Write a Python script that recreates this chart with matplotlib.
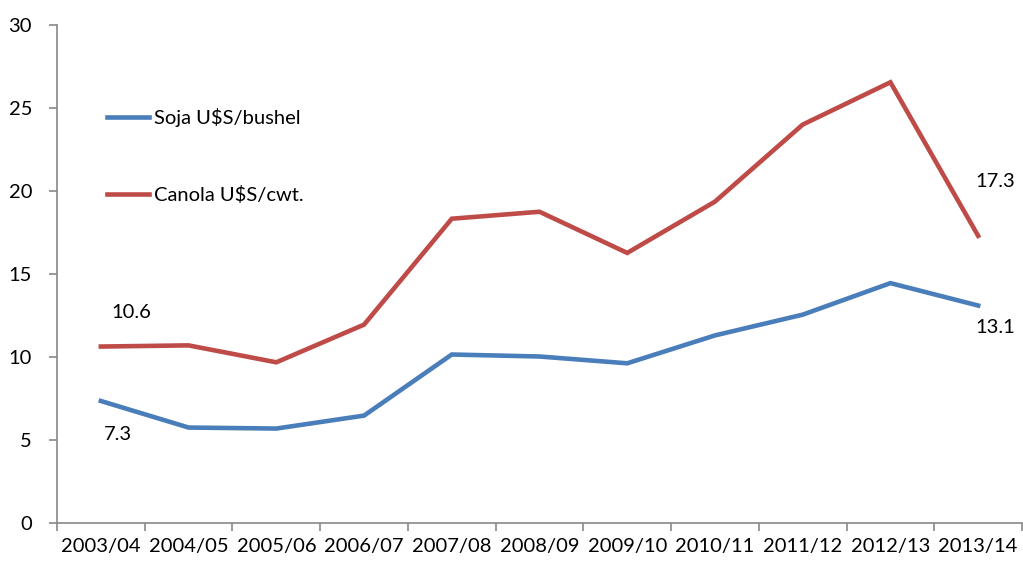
import matplotlib
matplotlib.use("Agg")
import matplotlib.pyplot as plt
import numpy as np

categories = ["2003/04", "2004/05", "2005/06", "2006/07", "2007/08", "2008/09",
              "2009/10", "2010/11", "2011/12", "2012/13", "2013/14"]
soja = [7.35, 5.75, 5.69, 6.47, 10.15, 10.03, 9.62, 11.3, 12.55, 14.45, 13.1]
canola = [10.63, 10.7, 9.68, 11.95, 18.33, 18.75, 16.27, 19.36, 24.0, 26.55, 17.3]
soja_label = "Soja U$S/bushel"
canola_label = "Canola U$S/cwt."

plt.rcParams['font.family'] = ['Lato', 'DejaVu Sans']
FS = 14.5

fig = plt.figure(figsize=(10.23, 5.63), dpi=100)
ax = fig.add_axes([57/1023, 40/563, (1022-57)/1023, (523-25)/563])

x = np.arange(len(categories))
l1, = ax.plot(x, soja, color="#4A7EBB", lw=3.3, solid_joinstyle="miter", label=soja_label)
l2, = ax.plot(x, canola, color="#BE4B48", lw=3.3, solid_joinstyle="miter", label=canola_label)

ax.set_xlim(-0.5, len(categories) - 0.5)
ax.set_ylim(0, 30)
ax.set_yticks(np.arange(0, 31, 5))
ax.set_xticks(x)
ax.set_xticklabels(categories)
ax.set_xticks(np.arange(-0.5, len(categories), 1), minor=True)
ax.tick_params(axis="x", which="major", length=0, labelsize=FS, pad=11)
ax.tick_params(axis="x", which="minor", length=6, color="#888888", width=1.2)
ax.tick_params(axis="y", length=6, color="#888888", width=1.2, labelsize=FS, pad=12)

for s in ["top", "right"]:
    ax.spines[s].set_visible(False)
for s in ["left", "bottom"]:
    ax.spines[s].set_color("#888888")
    ax.spines[s].set_linewidth(1.2)

def lab(xi, val, dx, dy):
    ax.annotate(f"{val:.1f}", (xi, val), xytext=(dx, dy), textcoords="offset pixels",
                ha="center", va="center", fontsize=FS)

lab(0, canola[0], 30, 34)
lab(0, soja[0], 17, -34)
lab(10, canola[10], 17, 54)
lab(10, soja[10], 17, -22)

leg = fig.legend(handles=[l1, l2], loc="upper left", bbox_to_anchor=(97/1023, 1 - 98/563),
                 frameon=False, fontsize=FS, handlelength=2.1, handletextpad=0.25,
                 labelspacing=2.95, borderpad=0)

fig.savefig("out.png", dpi=100)
